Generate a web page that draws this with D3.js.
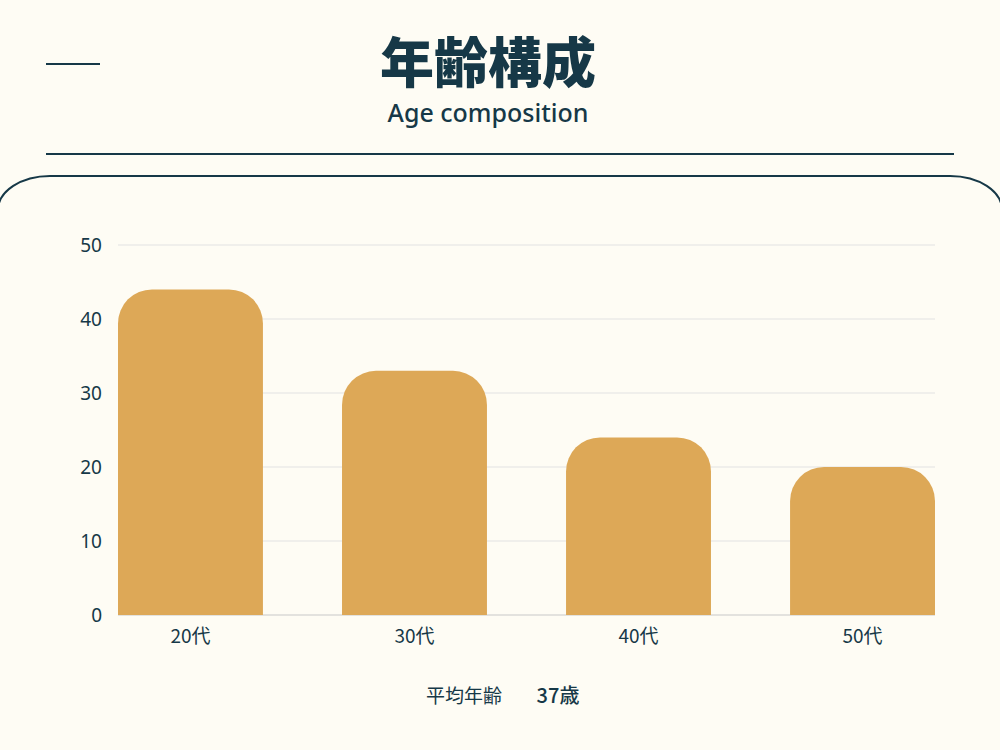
<!DOCTYPE html><html><head><meta charset="utf-8">
<script src="https://cdn.jsdelivr.net/npm/d3@7"></script>
<style>body{margin:0;background:#FEFCF4}</style></head><body>
<script>
const categories=["20代","30代","40代","50代"];
const values=[44,33,24,20];
const yTicks=[0,10,20,30,40,50];
const dark="#163847";
const svg=d3.select("body").append("svg").attr("width",1000).attr("height",750);
svg.append("rect").attr("width",1000).attr("height",750).attr("fill","#FEFCF4");
svg.append("line").attr("x1",46).attr("x2",100).attr("y1",64).attr("y2",64).attr("stroke",dark).attr("stroke-width",2);
svg.append("line").attr("x1",46).attr("x2",954).attr("y1",154).attr("y2",154).attr("stroke",dark).attr("stroke-width",2);
svg.append("path").attr("d","M-2,210 A52,34 0 0 1 50,176 L950,176 A52,34 0 0 1 1002,210").attr("fill","none").attr("stroke",dark).attr("stroke-width",2);
svg.append("text").attr("x",488).attr("y",83).attr("text-anchor","middle").attr("font-family","Noto Sans CJK JP").attr("font-weight",900).attr("font-size",54).attr("fill",dark).text("年齢構成");
svg.append("text").attr("x",488).attr("y",122).attr("text-anchor","middle").attr("font-family","Noto Sans").attr("font-weight",500).attr("font-size",25).attr("fill",dark).text("Age composition");
const x=d3.scaleBand().domain(categories).range([118,935]).paddingInner(0.353).paddingOuter(0);
const y=d3.scaleLinear().domain([0,50]).range([615,245]);
svg.append("g").selectAll("line").data(yTicks).join("line").attr("x1",118).attr("x2",935).attr("y1",d=>y(d)).attr("y2",d=>y(d)).attr("stroke",d=>d===0?"#c8c8c8":"#e2e2e2");
svg.append("g").selectAll("text").data(yTicks).join("text").attr("x",102).attr("y",d=>y(d)+7).attr("text-anchor","end").attr("font-family","Noto Sans").attr("font-size",19).attr("fill",dark).text(d=>d);
const r=34;
svg.append("g").selectAll("path").data(categories).join("path").attr("fill","#DDA857").attr("d",(c,i)=>{
 const x0=x(c),w=x.bandwidth(),t=y(values[i]),b=y(0);
 return `M${x0},${b}L${x0},${t+r}A${r},${r} 0 0 1 ${x0+r},${t}L${x0+w-r},${t}A${r},${r} 0 0 1 ${x0+w},${t+r}L${x0+w},${b}Z`;});
svg.append("g").selectAll("text").data(categories).join("text").attr("x",c=>x(c)+x.bandwidth()/2).attr("y",643).attr("text-anchor","middle").attr("font-family","Noto Sans CJK JP").attr("font-size",19).attr("fill",dark).text(c=>c);
svg.append("text").attr("x",464).attr("y",703).attr("text-anchor","middle").attr("font-family","Noto Sans CJK JP").attr("font-size",19).attr("fill",dark).text("平均年齢");
svg.append("text").attr("x",558).attr("y",703).attr("text-anchor","middle").attr("font-family","Noto Sans CJK JP").attr("font-weight",500).attr("font-size",20).attr("fill",dark).text("37歳");
</script></body></html>
